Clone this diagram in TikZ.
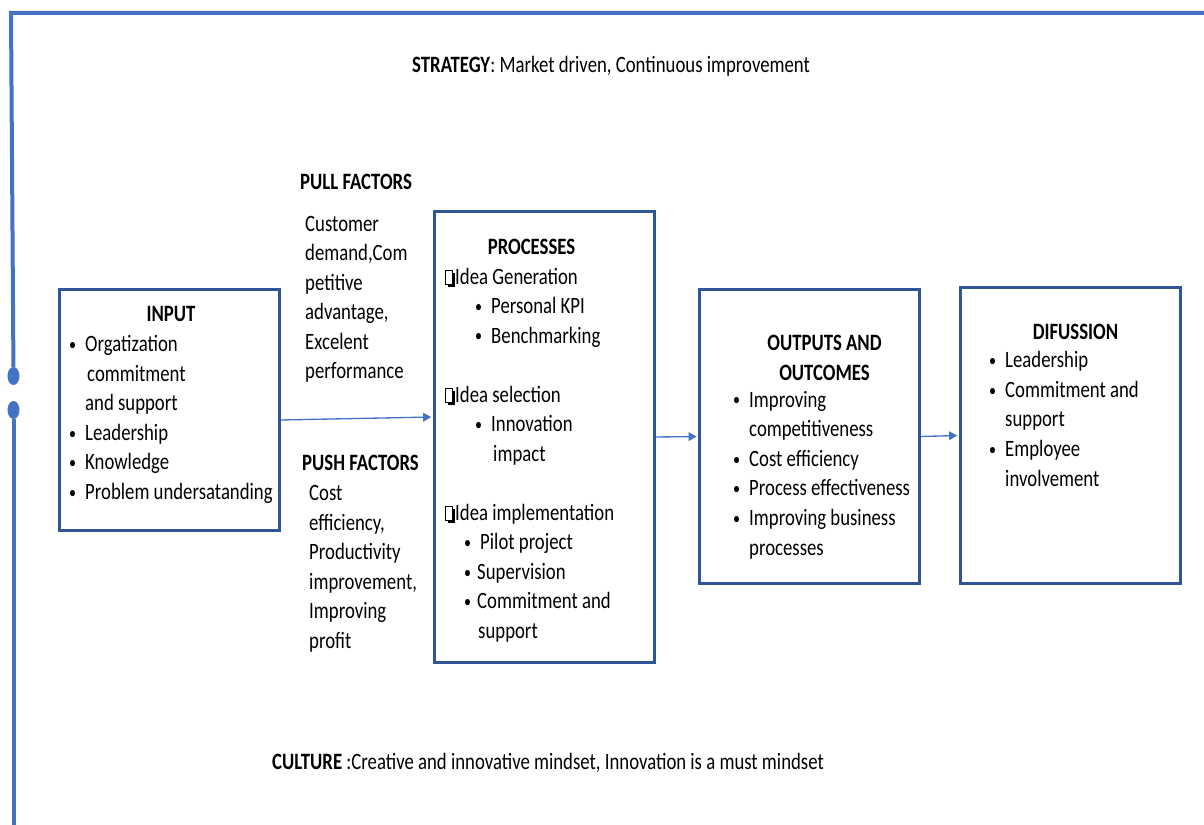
\documentclass[tikz,border=0pt]{standalone}
\usepackage{fontspec}
\setmainfont{Carlito}[FakeStretch=0.8]
\usetikzlibrary{arrows.meta,shapes.geometric}
\definecolor{boxblue}{HTML}{2F5597}
\definecolor{lineblue}{HTML}{4472C4}
\newcommand{\dotb}{\raisebox{0.06em}{\fontsize{15}{15}\selectfont\textbullet}}
\newcommand{\bul}{\makebox[0.48cm][l]{\dotb}}
\newcommand{\chk}{\makebox[0.3cm][l]{\tikz[x=1cm,y=1cm,baseline=0pt]{\fill (0.07,-0.07) rectangle (0.28,0.35); \filldraw[fill=white, line width=0.7pt] (0,0) rectangle (0.21,0.42);}}}
\tikzset{
  box/.style={draw=boxblue, line width=0.09cm, minimum width=6.6cm, inner sep=0pt},
  txt/.style={anchor=base west, inner sep=0pt, align=left},
  head/.style={anchor=base, inner sep=0pt, align=center},
  flow/.style={lineblue, line width=0.04cm, shorten >=0.04cm, -{Triangle[length=0.24cm,width=0.26cm]}},
  frame/.style={lineblue, line width=0.12cm},
  knob/.style={ellipse, fill=lineblue, minimum width=0.36cm, minimum height=0.54cm, inner sep=0pt}
}
\begin{document}
\begin{tikzpicture}[x=0.03cm, y=-0.03cm, font=\fontsize{20}{25.2}\selectfont]
  \useasboundingbox (0,0) rectangle (1204,825);
  \node [knob] (knob1) at (13.5,376) {};
  \node [knob] (knob2) at (13.5,410) {};
  \coordinate (topright) at (1204,13);
  \coordinate (corner) at (11,13);
  \coordinate (bottom) at (13.5,825);
  \draw [frame] (topright) -- (corner) -- (knob1);
  \draw [frame] (knob2) -- (bottom);

  \node [txt] (strategy) at (412,73) {\textbf{STRATEGY}: Market driven, Continuous improvement};
  \node [txt] (pull) at (300,190) {\textbf{PULL FACTORS}};
  \node [txt] (pulltxt) at (305,379) {Customer\\demand,Com\\petitive\\advantage,\\Excelent\\performance};
  \node [txt] (push) at (302,471) {\textbf{PUSH FACTORS}};
  \node [txt] (pushtxt) at (309,648.5) {Cost\\efficiency,\\Productivity\\improvement,\\Improving\\profit};
  \node [txt] (culture) at (272,769) {\textbf{CULTURE} :Creative and innovative mindset, Innovation is a must mindset};

  \node [box, minimum height=7.2cm] (input) at (169.5,410) {};
  \node [box, minimum height=13.5cm] (proc) at (544,437) {};
  \node [box, minimum height=8.79cm] (outp) at (809.5,436.5) {};
  \node [box, minimum height=8.85cm] (diff) at (1070,435.5) {};

  \node [head] (inputhead) at (171,322) {\textbf{INPUT}};
  \node [txt] (inputtxt) at (69,499.5) {\bul Orgatization\\\hspace*{0.54cm}commitment\\\hspace*{0.48cm}and support\\\bul Leadership\\\bul Knowledge\\\bul Problem undersatanding};
  \node [head] (prochead) at (531.5,255) {\textbf{PROCESSES}};
  \node [txt] (proctxt) at (445,638.5) {\chk Idea Generation\\
    \hspace*{0.9cm}\bul Personal KPI\\
    \hspace*{0.9cm}\bul Benchmarking\\
    \mbox{}\\
    \chk Idea selection\\
    \hspace*{0.9cm}\bul Innovation\\
    \hspace*{1.44cm}impact\\
    \mbox{}\\
    \chk Idea implementation\\
    \hspace*{0.57cm}\bul Pilot project\\
    \hspace*{0.57cm}\makebox[0.39cm][l]{\dotb}Supervision\\
    \hspace*{0.57cm}\makebox[0.39cm][l]{\dotb}Commitment and\\
    \hspace*{0.99cm}support};
  \node [head] (outphead) at (824.5,380.5) {\textbf{OUTPUTS AND}\\\textbf{OUTCOMES}};
  \node [txt] (outptxt) at (733,555) {\bul Improving\\\hspace*{0.48cm}competitiveness\\\bul Cost efficiency\\\bul Process effectiveness\\\bul Improving business\\\hspace*{0.48cm}processes};
  \node [head] (diffhead) at (1075.5,340) {\textbf{DIFUSSION}};
  \node [txt] (difftxt) at (989,486) {\bul Leadership\\\bul Commitment and\\\hspace*{0.48cm}support\\\bul Employee\\\hspace*{0.48cm}involvement};

  \draw [flow] ([yshift=-0.3cm]input.east) -- ([yshift=0.6cm]proc.west);
  \draw [flow] (proc.east) -- (outp.west);
  \draw [flow] (outp.east) -- (diff.west);
\end{tikzpicture}
\end{document}
